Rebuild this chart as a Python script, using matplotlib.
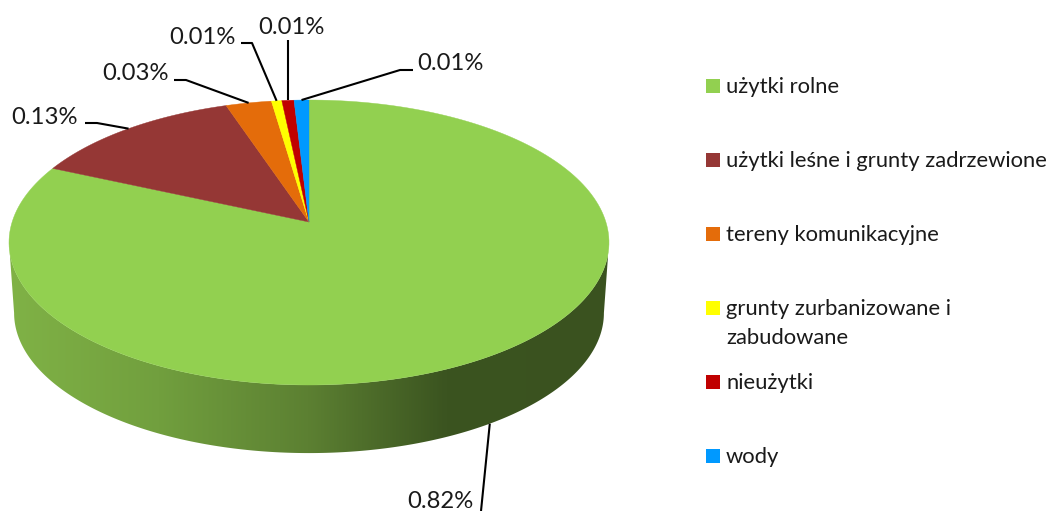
import matplotlib
matplotlib.use('Agg')
import matplotlib.pyplot as plt
import numpy as np
from matplotlib.colors import LinearSegmentedColormap
from matplotlib.patches import Polygon, Rectangle

plt.rcParams['font.family'] = ['Lato', 'DejaVu Sans']

categories = ["użytki rolne", "użytki leśne i grunty zadrzewione", "tereny komunikacyjne",
              "grunty zurbanizowane i\nzabudowane", "nieużytki", "wody"]
values = [0.8167, 0.132, 0.0283, 0.0064, 0.0075, 0.0092]
colors = ["#92D050", "#953735", "#E46C0A", "#FFFF00", "#C00000", "#0099FF"]

# pie geometry in figure pixels (circle seen in perspective)
apex_x, apex_y = 309, 222
c = 41 / 285
a = 122 * (1 + c)
d = 300 * np.sqrt(1 - c ** 2)
ell_cy = 242.5
shrink, drop = 0.983, 70.5

# label text position and elbow, per slice
label_pos = [(473, 501), (78, 118), (169, 74), (236, 37), (325, 27), (417, 63)]
label_ha = ['right', 'right', 'right', 'right', 'right', 'left']
elbows = [None, (85, 123, 97, 123), (174, 80, 186, 80), (241, 43, 252, 43), None, (413, 70, 400, 70)]


def top(t):
    w = 1 + c * np.cos(t)
    return apex_x + d * np.sin(t) / w, apex_y - a * np.cos(t) / w


def bottom(t):
    x, y = top(t)
    return apex_x + (x - apex_x) * shrink, ell_cy + (y - ell_cy) * shrink + drop


fig = plt.figure(figsize=(10.5, 5.11), dpi=100)
ax = fig.add_axes([0, 0, 1, 1])
ax.set_xlim(0, 1050)
ax.set_ylim(511, 0)
ax.axis('off')

# side wall with the gradient
t0 = np.arccos(-c)
ts = np.linspace(t0, 2 * np.pi - t0, 300)
wall = np.vstack([np.column_stack(top(ts)), np.column_stack(bottom(ts))[::-1]])
cmap = LinearSegmentedColormap.from_list('wall', [(0, "#80B246"), (0.25, "#719F3E"), (0.5, "#5C8032"),
                                                  (0.73, "#3B5420"), (1, "#3A521F")])
img = ax.imshow(np.linspace(0, 1, 256)[None, :], cmap=cmap, extent=(9, 608, 460, 240), aspect='auto', zorder=1)
clip = Polygon(wall, closed=True, transform=ax.transData, facecolor='none', edgecolor='none')
ax.add_patch(clip)
img.set_clip_path(clip)
ax.set_xlim(0, 1050)
ax.set_ylim(511, 0)

# top face, clockwise from 12 o'clock
fracs = np.array(values) / sum(values)
edges = np.concatenate([[0], np.cumsum(fracs)]) * 2 * np.pi
for i, col in enumerate(colors):
    t = np.linspace(edges[i], edges[i + 1], 200)
    x, y = top(t)
    pts = np.column_stack([np.r_[apex_x, x], np.r_[apex_y, y]])
    ax.add_patch(Polygon(pts, closed=True, facecolor=col, edgecolor=col, linewidth=0.3, zorder=2))

# leader lines and labels
for i, v in enumerate(values):
    mid = (edges[i] + edges[i + 1]) / 2
    if i == 0:
        ax_x, ax_y = bottom(mid)
        lx, ly = [ax_x, 481], [ax_y, 511]
    elif elbows[i] is None:
        ax_x, ax_y = top(mid)
        lx, ly = [ax_x, ax_x], [ax_y, 40]
    else:
        ax_x, ax_y = top(mid)
        e = elbows[i]
        lx, ly = [e[0], e[2], ax_x], [e[1], e[3], ax_y]
    ax.plot(lx, ly, color='black', linewidth=1.5, solid_capstyle='butt', zorder=3, clip_on=True)
    ax.text(label_pos[i][0], label_pos[i][1], f"{v:.2f}%", fontsize=17.2, color='#1a1a1a',
            ha=label_ha[i], va='center', zorder=4)

# legend
leg_y = [87, 161, 235, 309, 383, 457]
for name, col, y in zip(categories, colors, leg_y):
    ax.add_patch(Rectangle((706, y - 8), 14, 14, facecolor=col, edgecolor='none', zorder=2))
    lines = name.split('\n')
    for j, line in enumerate(lines):
        ax.text(726, y + j * 29, line, fontsize=15.85, color='#1a1a1a', ha='left', va='center')

fig.savefig('out.png', dpi=100, facecolor='white')
